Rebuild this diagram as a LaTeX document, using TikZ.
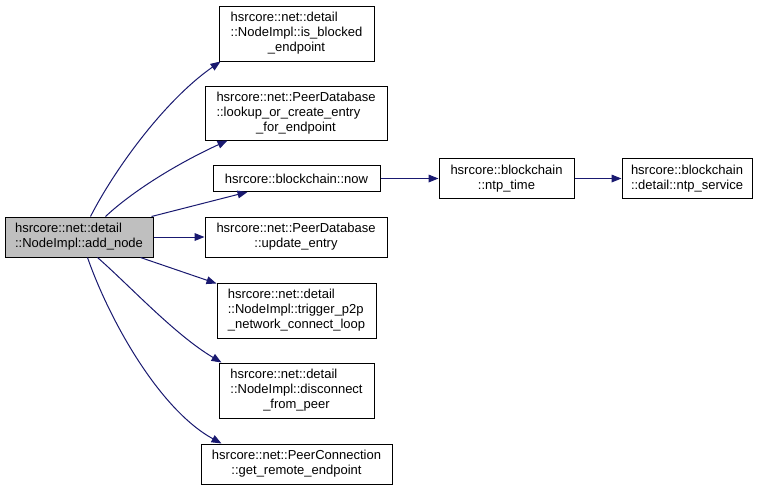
\documentclass[tikz,border=0pt]{standalone}
\usepackage{fontspec}
\setmainfont{Liberation Sans}
\usetikzlibrary{arrows.meta,calc}
\definecolor{edgeblue}{HTML}{191970}
\definecolor{boxgray}{HTML}{BFBFBF}
\begin{document}
\begin{tikzpicture}[x=0.75pt,y=-0.75pt,
  box/.style={draw=black,line width=0.75pt,fill=white,inner sep=0pt,
    font=\fontsize{9.75}{11.25}\selectfont,align=center},
  rootbox/.style={box,fill=boxgray},
  conn/.style={draw=edgeblue,line width=0.75pt,
    -{Triangle[length=7.5pt,width=5.8pt]}}]
\useasboundingbox[fill=white] (0,0) rectangle (763,490);

\node[rootbox,minimum width=111pt,minimum height=30pt] (root) at (79,237)
  {\begin{tabular}{@{}l@{}}hsrcore::net::detail\\::NodeImpl::add\_node\end{tabular}};

\node[box,minimum width=116.25pt,minimum height=41.25pt] (blocked) at (296.5,33.5)
  {\begin{tabular}{@{}l@{}}hsrcore::net::detail\\::NodeImpl::is\_blocked\\\multicolumn{1}{@{}c@{}}{\_endpoint}\end{tabular}};

\node[box,minimum width=136.5pt,minimum height=40.5pt] (lookup) at (296,113)
  {\begin{tabular}{@{}l@{}}hsrcore::net::PeerDatabase\\::lookup\_or\_create\_entry\\\multicolumn{1}{@{}c@{}}{\_for\_endpoint}\end{tabular}};

\node[box,minimum width=125.25pt,minimum height=19.5pt] (now) at (296.5,178.5)
  {hsrcore::blockchain::now};

\node[box,minimum width=136.5pt,minimum height=30pt] (update) at (296,237)
  {hsrcore::net::PeerDatabase\\::update\_entry};

\node[box,minimum width=119.25pt,minimum height=41.25pt] (trigger) at (296.5,310.5)
  {\begin{tabular}{@{}l@{}}hsrcore::net::detail\\::NodeImpl::trigger\_p2p\\\_network\_connect\_loop\end{tabular}};

\node[box,minimum width=116.25pt,minimum height=41.25pt] (disconnect) at (296.5,390.5)
  {\begin{tabular}{@{}l@{}}hsrcore::net::detail\\::NodeImpl::disconnect\\\multicolumn{1}{@{}c@{}}{\_from\_peer}\end{tabular}};

\node[box,minimum width=143.25pt,minimum height=30pt] (remote) at (296.5,464)
  {hsrcore::net::PeerConnection\\::get\_remote\_endpoint};

\node[box,minimum width=101.25pt,minimum height=30pt] (ntptime) at (506.5,178.5)
  {hsrcore::blockchain\\::ntp\_time};

\node[box,minimum width=97.5pt,minimum height=30pt] (ntpservice) at (687,178.5)
  {hsrcore::blockchain\\::detail::ntp\_service};

% connectors
\draw[conn] ($(root.north west)+(86,0)$) .. controls +(24,-47) and +(-56,39) .. ($(blocked.south west)+(2,0)$);
\draw[conn] ($(root.north west)+(101,0)$) .. controls +(29,-27) and +(-48,22) .. ($(lookup.south west)+(23,0)$);
\draw[conn] ($(root.north east)+(-2,0)$) -- ($(now.south west)+(35,0)$);
\draw[conn] (root.east) -- (update.west);
\draw[conn] ($(root.south east)+(-13,0)$) -- ($(trigger.north west)+(0,1)$);
\draw[conn] ($(root.south west)+(93,0)$) .. controls +(32,28) and +(-47,-28) .. ($(disconnect.north west)+(3,0)$);
\draw[conn] ($(root.south west)+(83,0)$) .. controls +(22,63) and +(-62,-34) .. ($(remote.north west)+(21,0)$);
\draw[conn] (now.east) -- (ntptime.west);
\draw[conn] (ntptime.east) -- (ntpservice.west);
\end{tikzpicture}
\end{document}
